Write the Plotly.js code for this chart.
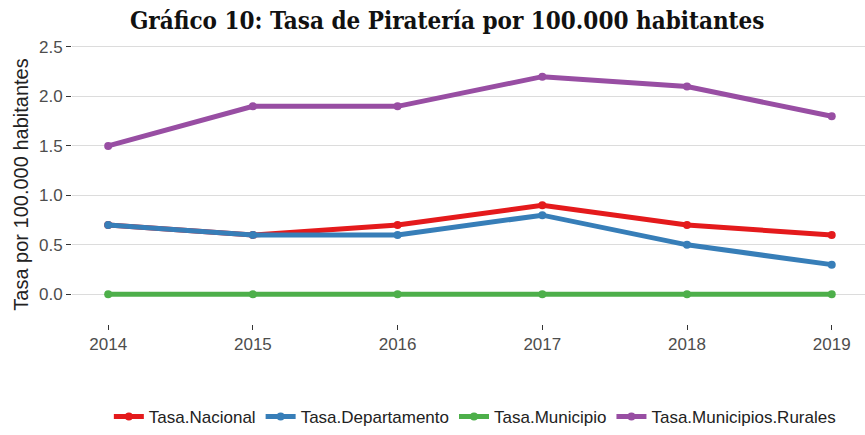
<!DOCTYPE html>
<html>
<head>
<meta charset="utf-8">
<script src="https://cdn.plot.ly/plotly-3.0.1.min.js"></script>
<style>body{margin:0;background:#fff}#chart{width:865px;height:435px}</style>
</head>
<body>
<div id="chart"></div>
<script>
// Tasa de Piratería por 100.000 habitantes
const anios = [2014, 2015, 2016, 2017, 2018, 2019];
const tasaNacional = [0.7, 0.6, 0.7, 0.9, 0.7, 0.6];
const tasaDepartamento = [0.7, 0.6, 0.6, 0.8, 0.5, 0.3];
const tasaMunicipio = [0, 0, 0, 0, 0, 0];
const tasaRurales = [1.5, 1.9, 1.9, 2.2, 2.1, 1.8];
const ticksY = [0, 0.5, 1, 1.5, 2, 2.5];
const etiquetasY = ['0.0', '0.5', '1.0', '1.5', '2.0', '2.5'];

const series = [
  { nombre: 'Tasa.Nacional', y: tasaNacional, color: '#e41a1c' },
  { nombre: 'Tasa.Departamento', y: tasaDepartamento, color: '#377eb8' },
  { nombre: 'Tasa.Municipio', y: tasaMunicipio, color: '#4daf4a' },
  { nombre: 'Tasa.Municipios.Rurales', y: tasaRurales, color: '#984ea3' }
];

const fuente = 'Liberation Sans, Arial, sans-serif';

const trazas = series.map(s => ({
  x: anios,
  y: s.y,
  type: 'scatter',
  mode: 'lines+markers',
  name: s.nombre,
  line: { color: s.color, width: 5 },
  marker: { color: s.color, size: 8 }
}));

const layout = {
  width: 865, height: 435,
  margin: { l: 72, r: 0, t: 45, b: 108 },
  paper_bgcolor: '#fff', plot_bgcolor: '#fff',
  title: {
    text: '<b>Gráfico 10: Tasa de Piratería por 100.000 habitantes</b>',
    font: { family: 'DejaVu Serif Condensed, DejaVu Serif, serif', size: 24, color: '#111' },
    x: 0.517, xanchor: 'center', y: 0.953, yanchor: 'middle'
  },
  xaxis: {
    range: [2013.75, 2019.23],
    tickvals: anios,
    ticks: 'outside', ticklen: 5, tickcolor: '#333',
    showgrid: false, zeroline: false, showline: false,
    tickfont: { family: fuente, size: 17, color: '#4d4d4d' }
  },
  yaxis: {
    range: [-0.3, 2.52],
    tickvals: ticksY,
    ticktext: etiquetasY,
    ticks: 'outside', ticklen: 5, tickcolor: '#333',
    gridcolor: '#dcdcdc', gridwidth: 1,
    zeroline: false, showline: false,
    tickfont: { family: fuente, size: 17, color: '#4d4d4d' },
    title: { text: 'Tasa por 100.000 habitantes', standoff: 4,
             font: { family: fuente, size: 20, color: '#222' } }
  },
  showlegend: true,
  legend: {
    orientation: 'h', x: 0.508, xanchor: 'center', y: -0.335, yanchor: 'middle',
    font: { family: fuente, size: 17, color: '#222' },
    itemwidth: 30
  }
};

Plotly.newPlot('chart', trazas, layout, { displayModeBar: false });
</script>
</body>
</html>
